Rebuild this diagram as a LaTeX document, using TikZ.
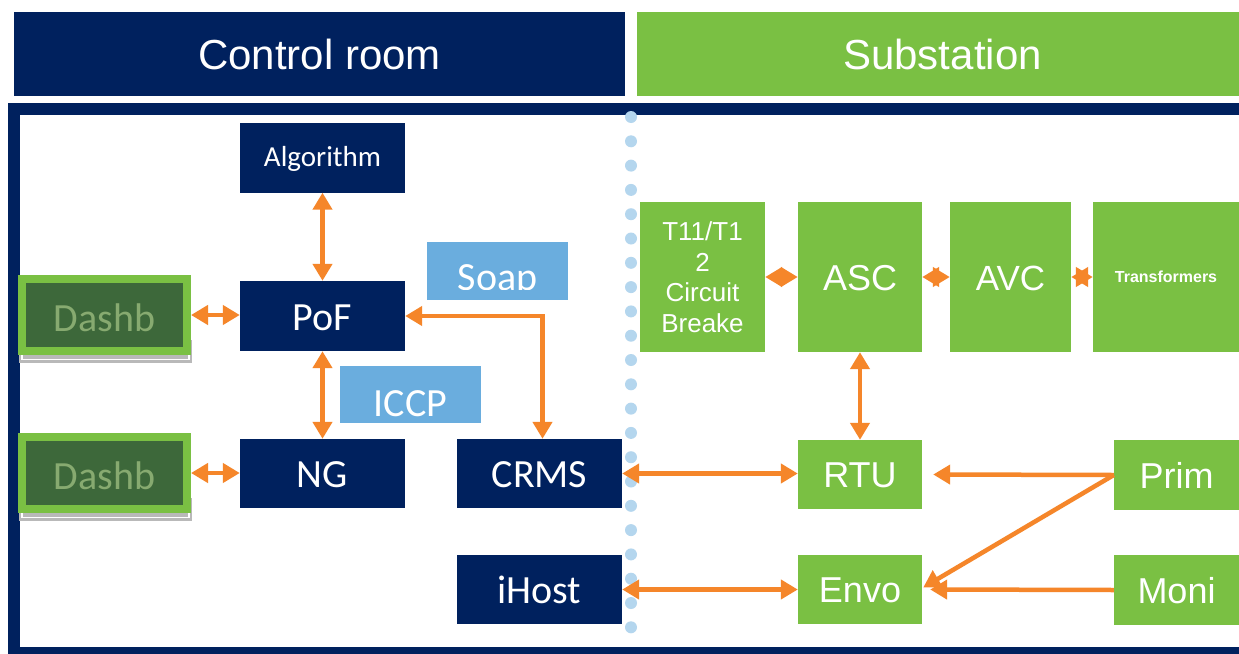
\documentclass[tikz,border=0pt]{standalone}
\usepackage{fontspec}
\newfontfamily\arialf{Liberation Sans}
\newfontfamily\calibf{Carlito}
\usetikzlibrary{arrows.meta,calc}
\definecolor{navy}{RGB}{0,33,94}
\definecolor{leaf}{RGB}{122,192,67}
\definecolor{tangerine}{RGB}{245,134,42}
\definecolor{skyb}{RGB}{106,173,222}
\definecolor{dotblue}{RGB}{180,214,238}
\definecolor{dgreen}{RGB}{61,104,58}
\definecolor{dtext}{RGB}{135,170,112}
\tikzset{
  navybox/.style={fill=navy, text=white, inner sep=0pt, minimum width=165pt, minimum height=69pt,
    font=\calibf\fontsize{40}{48}\selectfont, text height=28pt, text depth=0pt},
  greenfill/.style={fill=leaf, text=white, inner sep=0pt},
  greenbox/.style={greenfill, font=\arialf\fontsize{36}{43}\selectfont, text height=26pt, text depth=0pt},
  dashbox/.style={fill=dgreen, draw=leaf, line width=8pt, text=dtext, inner sep=0pt,
    minimum width=165pt, minimum height=72pt,
    font=\calibf\fontsize{40}{48}\selectfont, text height=32pt, text depth=0pt},
  bluebox/.style={fill=skyb, inner sep=0pt, minimum width=141pt},
  bluetext/.style={text=white, inner sep=0pt, anchor=base, font=\calibf\fontsize{40}{48}\selectfont},
  header/.style={inner sep=0pt, minimum height=84pt, text=white,
    font=\arialf\fontsize{42}{50}\selectfont, text height=30pt, text depth=0pt},
  tip/.tip={Triangle[length=17pt,width=19pt]},
  link/.style={draw=tangerine, line width=4.5pt, {tip}-{tip}},
  onelink/.style={draw=tangerine, line width=4.5pt, -{tip}},
}
\begin{document}
\begin{tikzpicture}[x=1pt,y=-1pt]
\useasboundingbox (0,0) rectangle (1239,653);
\clip (0,0) rectangle (1239,653);

% column headers
\node[header, fill=navy, minimum width=611pt] (hdrcr) at (319.5,54) {Control room};
\node[header, fill=leaf, minimum width=611pt] (hdrss) at (942.5,54) {Substation};

% framed working area
\fill[navy] (8,103) rectangle (1260,660);
\fill[white] (20,115) rectangle (1260,647);

% boundary between control room and substation
\foreach \i in {0,...,21}
  \fill[dotblue] (631,{117+24.3*\i}) circle (6pt);

% control room side
\node[navybox, minimum height=70pt, font=\calibf\fontsize{29}{35}\selectfont, text height=18.5pt] (alg) at (322.5,157.5) {Algorithm};
\node[navybox, minimum height=70pt] (pof) at (322.5,316) {PoF};
\node[navybox] (ng) at (322.5,473.5) {NG};
\node[navybox] (crms) at (539.5,473.5) {CRMS};
\node[navybox] (ihost) at (539.5,589.5) {iHost};

% dashboards with their drop shadow
\foreach \y in {315,473}{
  \fill[gray!55] (19,{\y+25}) rectangle (192,{\y+48});
  \draw[white, line width=1.2pt] (22,{\y+20}) rectangle (189,{\y+44.5});
}
\node[dashbox] (dash1) at (104.5,315) {Dashb};
\node[dashbox] (dash2) at (104.5,473) {Dashb};

% protocol labels
\node[bluebox, minimum height=58pt] (soap) at (497.5,271) {};
\begin{scope}
  \clip (427,242) rectangle (568,289);
  \node[bluetext] (soaptxt) at (497.5,290) {Soap};
\end{scope}
\node[bluebox, minimum height=57pt] (iccp) at (410.5,394.5) {};
\node[bluetext] (iccptxt) at (410.5,416) {ICCP};

% substation side
\node[greenfill, minimum width=125pt, minimum height=150pt, align=center,
  font=\arialf\fontsize{26}{30.5}\selectfont] (t11) at (702.5,277) {T11/T1\\2\\Circuit\\Breake};
\node[greenbox, minimum width=124pt, minimum height=150pt] (asc) at (860,277) {ASC};
\node[greenbox, minimum width=121pt, minimum height=150pt, font=\arialf\fontsize{35}{42}\selectfont] (avc) at (1010.5,277) {AVC};
\node[greenfill, minimum width=146pt, minimum height=150pt,
  font=\arialf\bfseries\fontsize{16}{19}\selectfont] (trans) at (1166,277) {Transformers};
\node[greenbox, minimum width=124pt, minimum height=69pt] (rtu) at (860,474.5) {RTU};
\node[greenbox, minimum width=124pt, minimum height=69pt] (envo) at (860,589.5) {Envo};
\node[greenbox, minimum width=125pt, minimum height=70pt] (prim) at (1176.5,475) {Prim};
\node[greenbox, minimum width=125pt, minimum height=70pt] (moni) at (1176.5,590) {Moni};

% connectors
\draw[link] (alg.south) -- (pof.north);
\draw[link] (pof.south) -- (ng.north);
\draw[link] (dash1.east) -- (dash1.east -| pof.west);
\draw[link] (dash2.east) -- (dash2.east -| ng.west);
\draw[link] (pof.east) -| ([xshift=3pt]crms.north);
\draw[link] (crms.east) -- (crms.east -| rtu.west);
\draw[link] (ihost.east) -- (ihost.east -| envo.west);
\draw[link] (asc.south) -- (rtu.north);
\draw[link] (t11.east) -- (asc.west);
\draw[link] (asc.east) -- (avc.west);
\draw[link] (avc.east) -- (trans.west);
\draw[onelink] (prim.west) -- ([xshift=11pt]rtu.east);
\draw[onelink] (prim.west) -- ([xshift=1pt,yshift=2pt]envo.east);
\draw[onelink] (moni.west) -- ([xshift=8pt]envo.east);
\end{tikzpicture}
\end{document}
